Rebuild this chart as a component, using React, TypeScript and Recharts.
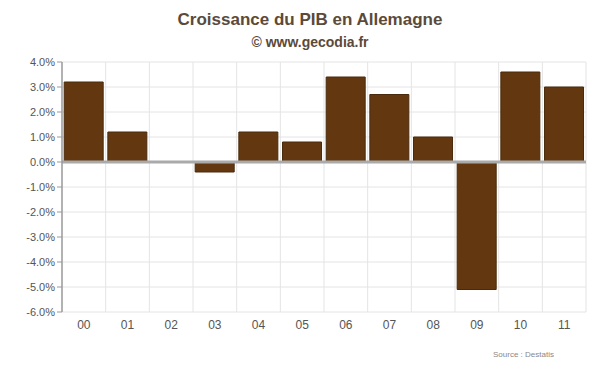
import React from 'react';
import {
  BarChart,
  Bar,
  XAxis,
  YAxis,
  CartesianGrid,
  ReferenceLine,
} from 'recharts';

const years = ['00', '01', '02', '03', '04', '05', '06', '07', '08', '09', '10', '11'];
const growth = [3.2, 1.2, 0.0, -0.4, 1.2, 0.8, 3.4, 2.7, 1.0, -5.1, 3.6, 3.0];
const yTicks = [-6, -5, -4, -3, -2, -1, 0, 1, 2, 3, 4];

const data = years.map((y, i) => ({ year: y, value: growth[i] }));

const App: React.FC = () => {
  return (
    <div
      style={{
        position: 'absolute',
        left: 0,
        top: 0,
        width: 600,
        height: 372,
        background: '#fff',
        fontFamily: 'Liberation Sans, Arial, sans-serif',
      }}
    >
      {/* Titles */}
      <div
        style={{
          position: 'absolute',
          top: 10,
          left: 0,
          width: 620,
          textAlign: 'center',
          fontWeight: 'bold',
          fontSize: 17,
          color: '#5b4a3a',
        }}
      >
        Croissance du PIB en Allemagne
      </div>
      <div
        style={{
          position: 'absolute',
          top: 34,
          left: 0,
          width: 620,
          textAlign: 'center',
          fontWeight: 'bold',
          fontSize: 14,
          color: '#5b4a3a',
        }}
      >
        © www.gecodia.fr
      </div>

      <BarChart
        width={600}
        height={372}
        data={data}
        margin={{ top: 62, right: 14, left: 10, bottom: 30 }}
        barCategoryGap="5%"
      >
        <CartesianGrid
          stroke="#e4e4e4"
          strokeWidth={1}
          verticalCoordinatesGenerator={({ offset }: any) =>
            years.map((_, i) => offset.left + ((i + 1) * offset.width) / years.length)
          }
        />
        <ReferenceLine y={0} stroke="#aaa" strokeWidth={3} />
        <XAxis
          dataKey="year"
          axisLine={false}
          tickLine={false}
          height={30}
          tick={{ fill: '#555', fontSize: 12 }}
          tickMargin={2}
        />
        <YAxis
          domain={[-6, 4]}
          ticks={yTicks}
          width={52}
          tickFormatter={(v: number) => `${v.toFixed(1)}%`}
          tick={{ fill: '#555', fontSize: 11 }}
          axisLine={{ stroke: '#999', strokeWidth: 1.5 }}
          tickLine={{ stroke: '#999' }}
          tickSize={5}
          interval={0}
        />
        <Bar
          dataKey="value"
          fill="#633811"
          stroke="#4a2a0c"
          strokeWidth={1}
          isAnimationActive={false}
        />
      </BarChart>

      <div
        style={{
          position: 'absolute',
          left: 493,
          top: 350,
          fontSize: 8,
          color: '#888',
        }}
      >
        Source : Destatis
      </div>
    </div>
  );
};

export default App;
